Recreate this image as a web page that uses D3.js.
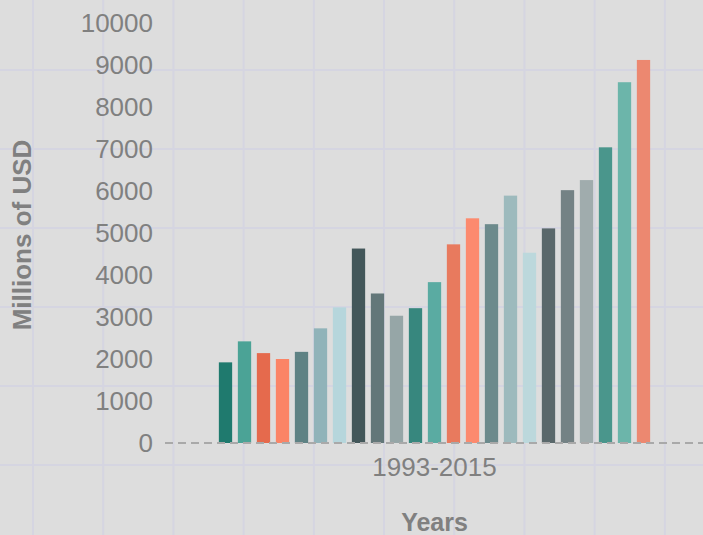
<!DOCTYPE html>
<html>
<head>
<meta charset="utf-8">
<script src="https://cdn.jsdelivr.net/npm/d3@7"></script>
<style>
  body { margin: 0; background: #dddddd; }
  svg { display: block; font-family: "Liberation Sans", Arial, sans-serif; }
</style>
</head>
<body>
<div class="chart"></div>
<script>
// Data
const years = d3.range(1993, 2016).map(String)
const values = [1920, 2420, 2140, 2000, 2170, 2730, 3230, 4630, 3560, 3030, 3210, 3830,
                4730, 5350, 5210, 5890, 4530, 5110, 6020, 6260, 7040, 8590, 9120]
const barColors = ["#1f7a6e", "#4ba396", "#e56a4d", "#fb8466", "#5e8284", "#90b3b9",
                   "#b6d6dc", "#43575a", "#637779", "#96a6a7", "#37877e", "#5aaba2",
                   "#e87a5e", "#fc8a6e", "#6c8a8c", "#9dbabd", "#bcd8dc", "#5a686b",
                   "#748285", "#a0acad", "#4a968c", "#6cb5aa", "#ec8870"]
const yTicks = d3.range(0, 10001, 1000)
const categoryLabel = "1993-2015"

// Dimensions
const width = 703
const height = 535

const svg = d3.select(".chart")
    .append("svg")
    .attr("width", width)
    .attr("height", height)

svg.append("rect")
    .attr("width", width)
    .attr("height", height)
    .attr("fill", "#dddddd")

// background grid
const grid = svg.append("g")
    .attr("stroke", "#d5d5e1")
    .attr("stroke-width", 2)
grid.selectAll("line.v")
    .data(d3.range(33, width, 70.2))
    .join("line")
    .attr("x1", d => d).attr("x2", d => d)
    .attr("y1", 0).attr("y2", height)
grid.selectAll("line.h")
    .data(d3.range(70, height, 79))
    .join("line")
    .attr("x1", 0).attr("x2", width)
    .attr("y1", d => d).attr("y2", d => d)

// Scales
const xScale = d3.scaleBand()
    .domain(years)
    .range([216, 653])
    .paddingInner(0.3)
    .paddingOuter(0.15)

const yScale = d3.scaleLinear()
    .domain([0, 10000])
    .range([443, 23])

// Bars
svg.append("g")
    .selectAll("rect")
    .data(values)
    .join("rect")
    .attr("x", (d, i) => xScale(years[i]))
    .attr("y", d => yScale(d))
    .attr("width", xScale.bandwidth())
    .attr("height", d => yScale(0) - yScale(d))
    .attr("fill", (d, i) => barColors[i])

// Zero line
svg.append("line")
    .attr("x1", 165)
    .attr("x2", width)
    .attr("y1", yScale(0))
    .attr("y2", yScale(0))
    .attr("stroke", "#a9a9a9")
    .attr("stroke-width", 2)
    .attr("stroke-dasharray", "8,5")

// Y axis
const yAxis = svg.append("g")
    .attr("transform", "translate(153,0)")
    .call(d3.axisLeft(yScale).tickValues(yTicks).tickSize(0).tickPadding(0).tickFormat(d3.format("d")))
yAxis.select(".domain").remove()
yAxis.selectAll("text")
    .attr("fill", "#808080")
    .style("font-size", "26px")
    .style("font-family", "'Liberation Sans', Arial, sans-serif")

// X category label
const xCenter = (xScale.range()[0] + xScale.range()[1]) / 2
svg.append("text")
    .attr("x", xCenter)
    .attr("y", 476)
    .attr("text-anchor", "middle")
    .attr("fill", "#808080")
    .style("font-size", "26px")
    .text(categoryLabel)

// Axis titles
svg.append("text")
    .attr("x", xCenter)
    .attr("y", 531)
    .attr("text-anchor", "middle")
    .attr("fill", "#808080")
    .style("font-size", "25px")
    .style("font-weight", "bold")
    .text("Years")

svg.append("text")
    .attr("transform", "translate(31,235) rotate(-90)")
    .attr("text-anchor", "middle")
    .attr("fill", "#808080")
    .style("font-size", "26px")
    .style("font-weight", "bold")
    .text("Millions of USD")
</script>
</body>
</html>
